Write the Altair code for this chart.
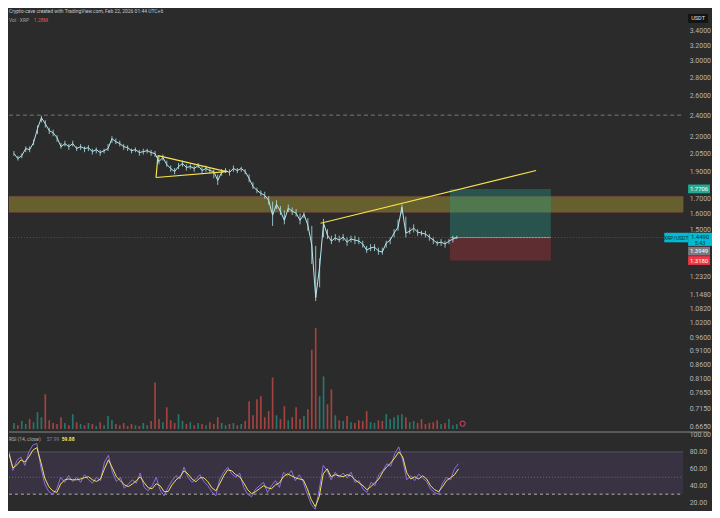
import altair as alt
import pandas as pd

# ---------------- data ----------------
close = [2.048, 2.007, 2.031, 2.091, 2.082, 2.143, 2.269, 2.374, 2.316, 2.251,
         2.232, 2.187, 2.108, 2.134, 2.108, 2.134, 2.091, 2.108, 2.091, 2.099,
         2.065, 2.082, 2.057, 2.073, 2.091, 2.178, 2.151, 2.134, 2.108, 2.099,
         2.073, 2.082, 2.057, 2.065, 2.073, 2.057, 2.048, 1.982, 2.015, 1.958,
         1.926, 1.902, 1.942, 1.966, 1.934, 1.942, 1.926, 1.950, 1.910, 1.926,
         1.910, 1.902, 1.834, 1.895, 1.910, 1.895, 1.926, 1.910, 1.926, 1.902,
         1.849, 1.789, 1.760, 1.739, 1.724, 1.689, 1.589, 1.662, 1.615, 1.556,
         1.635, 1.615, 1.602, 1.556, 1.595, 1.525, 1.405, 1.131, 1.284, 1.537,
         1.464, 1.428, 1.446, 1.434, 1.452, 1.422, 1.440, 1.434, 1.428, 1.411,
         1.376, 1.388, 1.393, 1.371, 1.365, 1.416, 1.434, 1.476, 1.512, 1.642,
         1.476, 1.488, 1.506, 1.482, 1.476, 1.470, 1.452, 1.434, 1.416, 1.422,
         1.411, 1.428, 1.440, 1.449]

high = [2.07, 2.03, 2.05, 2.11, 2.11, 2.17, 2.30, 2.395, 2.35, 2.28,
        2.26, 2.21, 2.14, 2.16, 2.13, 2.16, 2.11, 2.13, 2.11, 2.12,
        2.09, 2.10, 2.08, 2.09, 2.13, 2.20, 2.18, 2.16, 2.13, 2.12,
        2.09, 2.10, 2.08, 2.09, 2.09, 2.08, 2.07, 2.03, 2.04, 1.99,
        1.95, 1.93, 1.97, 1.99, 1.96, 1.96, 1.95, 1.97, 1.94, 1.95,
        1.93, 1.92, 1.88, 1.92, 1.93, 1.92, 1.95, 1.93, 1.94, 1.92,
        1.88, 1.82, 1.78, 1.76, 1.75, 1.72, 1.68, 1.69, 1.65, 1.62,
        1.66, 1.64, 1.63, 1.60, 1.61, 1.57, 1.52, 1.40, 1.33, 1.565,
        1.50, 1.46, 1.47, 1.46, 1.47, 1.45, 1.46, 1.46, 1.45, 1.43,
        1.40, 1.41, 1.41, 1.39, 1.39, 1.43, 1.45, 1.50, 1.56, 1.66,
        1.58, 1.51, 1.53, 1.50, 1.49, 1.49, 1.47, 1.45, 1.43, 1.44,
        1.43, 1.44, 1.46, 1.46]

low = [2.03, 1.99, 2.01, 2.06, 2.06, 2.12, 2.22, 2.33, 2.28, 2.22,
       2.20, 2.15, 2.09, 2.11, 2.08, 2.11, 2.07, 2.08, 2.06, 2.07,
       2.04, 2.05, 2.03, 2.05, 2.07, 2.14, 2.13, 2.11, 2.08, 2.07,
       2.05, 2.06, 2.03, 2.04, 2.05, 2.03, 2.02, 1.96, 1.99, 1.94,
       1.90, 1.88, 1.92, 1.94, 1.91, 1.92, 1.90, 1.93, 1.89, 1.90,
       1.89, 1.85, 1.80, 1.87, 1.89, 1.87, 1.90, 1.89, 1.90, 1.88,
       1.82, 1.77, 1.74, 1.72, 1.70, 1.66, 1.52, 1.63, 1.59, 1.53,
       1.61, 1.59, 1.58, 1.53, 1.57, 1.49, 1.30, 1.115, 1.18, 1.45,
       1.44, 1.41, 1.43, 1.42, 1.43, 1.40, 1.42, 1.41, 1.41, 1.39,
       1.36, 1.37, 1.37, 1.35, 1.35, 1.39, 1.41, 1.45, 1.49, 1.60,
       1.45, 1.47, 1.48, 1.46, 1.46, 1.45, 1.43, 1.41, 1.40, 1.40,
       1.39, 1.41, 1.42, 1.44]

volume_m = [1.6, 1.0, 2.1, 1.3, 2.6, 1.8, 4.4, 3.1, 9.1, 2.3,
            1.6, 1.3, 3.1, 1.6, 1.0, 3.9, 1.8, 1.3, 1.0, 1.6,
            1.3, 0.8, 1.8, 1.0, 3.4, 2.3, 1.3, 1.0, 1.6, 0.8,
            1.3, 1.0, 0.8, 1.6, 1.0, 2.1, 12.2, 2.6, 1.8, 5.7,
            2.3, 1.6, 3.9, 2.1, 1.3, 1.8, 1.0, 1.6, 1.3, 1.0,
            1.8, 1.3, 3.1, 1.6, 1.0, 1.3, 1.6, 1.0, 1.3, 2.1,
            7.3, 3.6, 7.8, 8.6, 3.1, 4.7, 13.5, 3.6, 2.6, 6.0,
            2.3, 3.1, 5.7, 2.6, 3.4, 5.2, 20.8, 26.5, 8.6, 13.8,
            6.5, 10.4, 3.6, 2.3, 2.1, 3.4, 1.8, 1.6, 2.3, 2.1,
            4.7, 1.8, 1.6, 2.3, 2.1, 3.9, 2.6, 3.1, 3.6, 3.9,
            3.1, 1.8, 2.1, 1.6, 2.6, 1.3, 1.6, 1.8, 2.3, 1.3,
            1.6, 2.6, 1.0, 1.28]

rsi = [80, 58, 70, 74, 64, 80, 88, 90, 62, 42,
       33, 30, 36, 50, 44, 52, 45, 50, 44, 53,
       47, 43, 50, 46, 68, 76, 56, 45, 50, 37,
       42, 47, 43, 55, 38, 34, 40, 50, 35, 28,
       38, 46, 52, 48, 62, 50, 44, 48, 53, 45,
       40, 33, 28, 48, 56, 62, 54, 50, 55, 38,
       30, 27, 36, 40, 44, 32, 40, 46, 38, 56,
       52, 58, 46, 53, 44, 30, 18, 12, 35, 64,
       58, 47, 56, 50, 55, 49, 56, 44, 46, 36,
       32, 44, 40, 53, 58, 66, 63, 78, 86, 70,
       47, 52, 46, 54, 49, 45, 36, 32, 30, 43,
       50, 47, 60, 66]

rsi_ma = [77.6, 61, 64.7, 70.6, 68, 74, 82, 85, 68, 49,
          39, 34, 32, 42, 47, 48, 47, 47, 48, 49.5,
          50.6, 47, 45, 48, 60, 70.6, 61, 50.6, 46, 41,
          39, 42, 46, 50.6, 43.5, 37.6, 36.5, 42.4, 40, 33,
          33, 41, 47, 50.6, 57.6, 54, 48, 44.7, 49.4, 49.4,
          44.7, 37.6, 34, 42.4, 51.8, 58.8, 57.6, 53, 50.6, 43.5,
          35.3, 30.6, 33, 36.5, 40, 37.6, 36.5, 41, 43.5, 50.6,
          54, 51.8, 49.4, 48, 47, 36.5, 23.5, 15.3, 27, 54,
          60, 50.6, 53, 51.8, 50.6, 53, 51.8, 47, 43.5, 40,
          35.3, 39, 43.5, 48, 56.5, 62.4, 67, 73, 80, 74,
          55.3, 48, 50.6, 48, 51.8, 48, 40, 35.3, 33, 38.8,
          46, 49.4, 52.9, 59.88]

bars = list(range(len(close)))

price_ticks = [3.4, 3.2, 3.0, 2.8, 2.6, 2.4, 2.2, 2.05, 1.9, 1.7, 1.6, 1.5,
               1.232, 1.148, 1.082, 1.02, 0.96, 0.91, 0.86, 0.81, 0.765, 0.715, 0.665]
rsi_ticks = [100, 80, 60, 40, 20]

zone_lo, zone_hi = 1.608, 1.717
entry, target, stop = 1.449, 1.7706, 1.318
pos_start, pos_end = 111.25, 137
dashed_level = 2.4

trend_seg = ["rise", "rise", "tri_top", "tri_top", "tri_bot", "tri_bot", "tri_edge", "tri_edge"]
trend_bar = [78.25, 133.25, 36.75, 54.25, 36.25, 54.25, 36.25, 36.75]
trend_price = [1.537, 1.910, 2.031, 1.902, 1.856, 1.902, 1.856, 2.031]

header = "Crypto-cave created with TradingView.com, Feb 22, 2026 01:44 UTC+6"

# ---------------- layout / styles ----------------
W = 678
H_PRICE = 422
H_RSI = 78
FONT = "Roboto"
BG = "#2b2b2b"
AXC = "#b2b5be"
LINE = "#b3e9ef"

df = pd.DataFrame({"bar": bars, "close": close, "high": high, "low": low,
                   "vol": volume_m, "rsi": rsi, "ma": rsi_ma})
df["dir"] = ["up" if i == 0 or close[i] >= close[i - 1] else "down" for i in range(len(close))]

xs = alt.Scale(domain=[0, W / 4], nice=False, zero=False)


def X(f="bar"):
    return alt.X(f"{f}:Q", scale=xs, axis=None)


ysc = alt.Scale(type="log", domain=[0.658, 3.711], nice=False, zero=False)
yax = alt.Axis(orient="right", values=price_ticks, format=".4f", labelFontSize=7,
               labelColor=AXC, labelFont=FONT, ticks=False, domain=False, grid=False,
               labelPadding=6, labelOverlap=False, labelFlush=False, title=None)


def YP(f):
    return alt.Y(f"{f}:Q", scale=ysc, axis=yax, title=None)


def one(**kw):
    return pd.DataFrame({k: [v] for k, v in kw.items()})


band = alt.Chart(one(lo=zone_lo, hi=zone_hi)).mark_rect(
    fill="#ffeb3b", fillOpacity=0.28, stroke="#c0504d", strokeOpacity=0.45, strokeWidth=0.7
).encode(x=alt.value(0), x2=alt.value(W), y=YP("lo"), y2="hi:Q")

pos_green = alt.Chart(one(a=pos_start, b=pos_end, lo=entry, hi=target)).mark_rect(
    color="#22ab94", opacity=0.32).encode(x=X("a"), x2="b:Q", y=YP("lo"), y2="hi:Q")
pos_red = alt.Chart(one(a=pos_start, b=pos_end, lo=stop, hi=entry)).mark_rect(
    color="#f23645", opacity=0.26).encode(x=X("a"), x2="b:Q", y=YP("lo"), y2="hi:Q")
entry_line = alt.Chart(one(a=pos_start, b=pos_end, p=entry)).mark_rule(
    color="#9e9e9e", strokeWidth=1).encode(x=X("a"), x2="b:Q", y=YP("p"))

dashed = alt.Chart(one(p=dashed_level)).mark_rule(
    color="#8c8c8c", strokeDash=[4, 3], strokeWidth=0.8).encode(y=YP("p"), x=alt.value(0), x2=alt.value(W))
cur_line = alt.Chart(one(p=entry)).mark_rule(
    color="#5d606b", strokeDash=[1, 2], strokeWidth=0.8).encode(y=YP("p"), x=alt.value(0), x2=alt.value(W))

wicks = alt.Chart(df).mark_rule(color=LINE, strokeWidth=0.9, opacity=0.85, clip=True).encode(
    x=X(), y=YP("low"), y2="high:Q")
price_line = alt.Chart(df).mark_line(color=LINE, strokeWidth=1.0, clip=True).encode(x=X(), y=YP("close"))

trend_df = pd.DataFrame({"seg": trend_seg, "bar": trend_bar, "price": trend_price})
trend = alt.Chart(trend_df).mark_line(color="#f7e34b", strokeWidth=1.2).encode(
    x=X(), y=YP("price"), detail="seg:N")


def tag(p, text, fill, tcolor, xc, w, shape="M-1,-0.4H1V0.4H-1Z", dy=0, extra=None, fs=6.0):
    base = alt.Chart(one(p=p, t=text))
    box = base.mark_point(shape=shape, size=w * w, filled=True, color=fill, opacity=1,
                          strokeWidth=0).encode(x=alt.value(xc), y=YP("p"))
    lab = base.mark_text(font=FONT, fontSize=fs, color=tcolor, dy=dy).encode(
        x=alt.value(xc), y=YP("p"), text="t:N")
    out = [box, lab]
    if extra:
        out.append(alt.Chart(one(p=p, t=extra)).mark_text(font=FONT, fontSize=5.5, color=tcolor, dy=dy + 6.5).encode(
            x=alt.value(xc), y=YP("p"), text="t:N"))
    return out


tags = []
tags += tag(target, "1.7706", "#22ab94", "#ffffff", 694, 22)
tags += tag(entry, "XRP/USDT", "#00bcd4", "#0b2a30", 671, 24, fs=5.2)
tags += tag(entry, "1.4490", "#00bcd4", "#0b2a30", 695, 24, shape="M-1,-0.4H1V0.7H-1Z", dy=-0.5, extra="5:43")
tags += tag(1.3949, "1.3949", "#787b86", "#ffffff", 694, 22, shape="M-1,0H1V0.8H-1Z", dy=4.4)
tags += tag(stop, "1.3180", "#f23645", "#ffffff", 694, 22)

texts = pd.DataFrame({"t": [header, "Vol · XRP", "1.28M", "USDT"]})
hdr = alt.Chart(texts.iloc[[0]]).mark_text(align="left", baseline="middle", font=FONT, fontSize=5.0,
                                            color="#c8c8c8").encode(x=alt.value(0), y=alt.value(2), text="t:N")
vol_lbl = alt.Chart(texts.iloc[[1]]).mark_text(align="left", baseline="middle", font=FONT, fontSize=5.0,
                                                color="#a0a0a0").encode(x=alt.value(0), y=alt.value(11), text="t:N")
vol_val = alt.Chart(texts.iloc[[2]]).mark_text(align="left", baseline="middle", font=FONT, fontSize=5.0,
                                                color="#ef5350").encode(x=alt.value(25), y=alt.value(11), text="t:N")
usdt_box = alt.Chart(texts.iloc[[3]]).mark_point(shape="M-1,-0.45H1V0.45H-1Z", size=400, filled=True,
                                                  color="#131313", opacity=1, strokeWidth=0).encode(
    x=alt.value(693), y=alt.value(9))
usdt_txt = alt.Chart(texts.iloc[[3]]).mark_text(font=FONT, fontSize=5.6, color="#e0e0e0").encode(
    x=alt.value(693), y=alt.value(9), text="t:N")

vol_scale = alt.Scale(domain=[0, 110], nice=False, zero=True)
vol = alt.Chart(df).mark_bar(width=1.7, opacity=0.6, clip=True).encode(
    x=X(), y=alt.Y("vol:Q", scale=vol_scale, axis=None),
    color=alt.Color("dir:N", scale=alt.Scale(domain=["up", "down"], range=["#26a69a", "#ef5350"]), legend=None))
icon = alt.Chart(one(bar=114.5, vol=1.4)).mark_point(shape="circle", size=28, filled=True, color="#3a2630",
                                                     stroke="#d04a66", strokeWidth=1, opacity=1).encode(
    x=X(), y=alt.Y("vol:Q", scale=vol_scale, axis=None))

vol_group = alt.layer(vol, icon)
price_group = alt.layer(band, pos_green, pos_red, entry_line, dashed, cur_line, wicks, price_line, trend,
                        *tags, hdr, vol_lbl, vol_val, usdt_box, usdt_txt)

top = alt.layer(vol_group, price_group).resolve_scale(y="independent").properties(width=W, height=H_PRICE)

# ---------------- RSI pane ----------------
rsc = alt.Scale(domain=[11.8, 103.5], nice=False, zero=False)
rax = alt.Axis(orient="right", values=rsi_ticks, format=".2f", labelFontSize=7, labelColor=AXC,
               labelFont=FONT, ticks=False, domain=False, grid=False, labelPadding=6,
               labelOverlap=False, labelFlush=False, title=None)


def YR(f):
    return alt.Y(f"{f}:Q", scale=rsc, axis=rax, title=None)


rband = alt.Chart(one(lo=30, hi=80)).mark_rect(color="#7e57c2", opacity=0.16).encode(
    x=alt.value(0), x2=alt.value(W), y=YR("lo"), y2="hi:Q")
r30 = alt.Chart(one(v=30)).mark_rule(color="#d0d0d0", strokeDash=[3, 3], strokeWidth=0.8).encode(
    y=YR("v"), x=alt.value(0), x2=alt.value(W))
r50 = alt.Chart(one(v=50)).mark_rule(color="#7a7a7a", strokeDash=[1, 2], strokeWidth=0.8).encode(
    y=YR("v"), x=alt.value(0), x2=alt.value(W))
r80 = alt.Chart(one(v=80)).mark_rule(color="#5f5f5f", strokeWidth=0.8).encode(
    y=YR("v"), x=alt.value(0), x2=alt.value(W))
sep = alt.Chart(one(v=0)).mark_rule(color="#8a8a8a", strokeWidth=1).encode(
    y=alt.value(0), x=alt.value(0), x2=alt.value(704))
rsi_line = alt.Chart(df).mark_line(color="#8e6ee0", strokeWidth=1, clip=True).encode(x=X(), y=YR("rsi"))
ma_line = alt.Chart(df).mark_line(color="#f2e35f", strokeWidth=1, clip=True).encode(x=X(), y=YR("ma"))

rtexts = pd.DataFrame({"t": ["RSI (14, close)", "57.99", "59.88"]})
rl1 = alt.Chart(rtexts.iloc[[0]]).mark_text(align="left", baseline="middle", font=FONT, fontSize=5.0,
                                             color="#b0b0b0").encode(x=alt.value(0), y=alt.value(7), text="t:N")
rl2 = alt.Chart(rtexts.iloc[[1]]).mark_text(align="left", baseline="middle", font=FONT, fontSize=5.0,
                                             color="#8e7ab8").encode(x=alt.value(38), y=alt.value(7), text="t:N")
rl3 = alt.Chart(rtexts.iloc[[2]]).mark_text(align="left", baseline="middle", font=FONT, fontSize=5.0,
                                             color="#f2e35f", fontWeight="bold").encode(x=alt.value(53), y=alt.value(7), text="t:N")

rsi_chart = alt.layer(rband, r80, r50, r30, rsi_line, ma_line, sep, rl1, rl2, rl3).properties(width=W, height=H_RSI)

chart = alt.vconcat(top, rsi_chart, spacing=0).properties(
    background=BG, padding=0
).configure_view(stroke=None)

chart.save("out.html", embed_options={"renderer": "svg", "actions": False})
